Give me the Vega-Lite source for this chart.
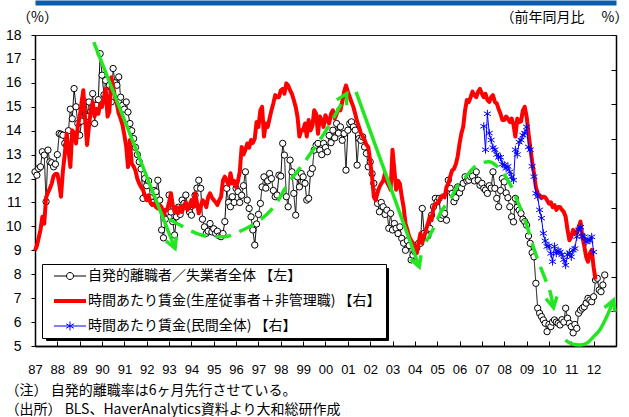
{
"$schema": "https://vega.github.io/schema/vega-lite/v6.json",
"autosize": {"type": "none"},
"padding": {"left": 35, "top": 35, "right": 13, "bottom": 71},
"width": 581,
"height": 311,
"background": "white",
"config": {
  "font": "Liberation Sans",
  "view": {"stroke": "#222222", "strokeWidth": 1},
  "axis": {"grid": false, "domainColor": "black", "tickColor": "black", "labelColor": "black", "titleColor": "black", "domainWidth": 1.5, "tickWidth": 1}
},
"datasets": {
"q": [
{"d":"1987-01","v":12.28},{"d":"1987-02","v":12.14},{"d":"1987-03","v":12.42},{"d":"1987-04","v":12.49},{"d":"1987-05","v":13.12},{"d":"1987-06","v":12.98},{"d":"1987-07","v":11.03},{"d":"1987-08","v":13.19},{"d":"1987-09","v":12.7},{"d":"1987-10","v":12.66},{"d":"1987-11","v":12.49},{"d":"1987-12","v":12.6},
{"d":"1988-01","v":13.0},{"d":"1988-02","v":13.88},{"d":"1988-03","v":13.85},{"d":"1988-04","v":13.81},{"d":"1988-05","v":13.47},{"d":"1988-06","v":13.39},{"d":"1988-07","v":14.0},{"d":"1988-08","v":14.9},{"d":"1988-09","v":14.5},{"d":"1988-10","v":15.76},{"d":"1988-11","v":15.0},{"d":"1988-12","v":14.3},
{"d":"1989-01","v":13.81},{"d":"1989-02","v":14.4},{"d":"1989-03","v":15.0},{"d":"1989-04","v":15.2},{"d":"1989-05","v":14.6},{"d":"1989-06","v":15.2},{"d":"1989-07","v":14.8},{"d":"1989-08","v":15.55},{"d":"1989-09","v":14.3},{"d":"1989-10","v":15.06},{"d":"1989-11","v":15.3},{"d":"1989-12","v":17.22},
{"d":"1990-01","v":16.32},{"d":"1990-02","v":15.5},{"d":"1990-03","v":16.1},{"d":"1990-04","v":15.6},{"d":"1990-05","v":15.9},{"d":"1990-06","v":15.2},{"d":"1990-07","v":16.6},{"d":"1990-08","v":16.0},{"d":"1990-09","v":15.9},{"d":"1990-10","v":16.25},{"d":"1990-11","v":15.4},{"d":"1990-12","v":15.06},
{"d":"1991-01","v":14.9},{"d":"1991-02","v":15.2},{"d":"1991-03","v":14.78},{"d":"1991-04","v":14.3},{"d":"1991-05","v":14.0},{"d":"1991-06","v":13.67},{"d":"1991-07","v":13.3},{"d":"1991-08","v":13.0},{"d":"1991-09","v":12.7},{"d":"1991-10","v":12.4},{"d":"1991-11","v":11.17},{"d":"1991-12","v":12.0},
{"d":"1992-01","v":11.7},{"d":"1992-02","v":11.9},{"d":"1992-03","v":11.2},{"d":"1992-04","v":11.0},{"d":"1992-05","v":11.5},{"d":"1992-06","v":11.45},{"d":"1992-07","v":11.93},{"d":"1992-08","v":11.1},{"d":"1992-09","v":9.85},{"d":"1992-10","v":9.52},{"d":"1992-11","v":10.3},{"d":"1992-12","v":10.6},
{"d":"1993-01","v":11.31},{"d":"1993-02","v":10.6},{"d":"1993-03","v":10.2},{"d":"1993-04","v":9.64},{"d":"1993-05","v":10.4},{"d":"1993-06","v":10.8},{"d":"1993-07","v":10.5},{"d":"1993-08","v":11.1},{"d":"1993-09","v":10.96},{"d":"1993-10","v":11.31},{"d":"1993-11","v":10.8},{"d":"1993-12","v":10.6},
{"d":"1994-01","v":10.47},{"d":"1994-02","v":10.9},{"d":"1994-03","v":11.3},{"d":"1994-04","v":11.6},{"d":"1994-05","v":11.93},{"d":"1994-06","v":11.59},{"d":"1994-07","v":10.3},{"d":"1994-08","v":9.98},{"d":"1994-09","v":9.71},{"d":"1994-10","v":9.8},{"d":"1994-11","v":10.12},{"d":"1994-12","v":9.77},
{"d":"1995-01","v":9.9},{"d":"1995-02","v":9.71},{"d":"1995-03","v":9.8},{"d":"1995-04","v":9.6},{"d":"1995-05","v":9.57},{"d":"1995-06","v":9.7},{"d":"1995-07","v":10.2},{"d":"1995-08","v":11.59},{"d":"1995-09","v":11.0},{"d":"1995-10","v":10.82},{"d":"1995-11","v":11.24},{"d":"1995-12","v":11.0},
{"d":"1996-01","v":11.59},{"d":"1996-02","v":11.45},{"d":"1996-03","v":11.0},{"d":"1996-04","v":11.3},{"d":"1996-05","v":11.7},{"d":"1996-06","v":12.28},{"d":"1996-07","v":11.1},{"d":"1996-08","v":10.75},{"d":"1996-09","v":10.4},{"d":"1996-10","v":9.85},{"d":"1996-11","v":9.22},{"d":"1996-12","v":10.1},
{"d":"1997-01","v":10.5},{"d":"1997-02","v":10.96},{"d":"1997-03","v":11.65},{"d":"1997-04","v":12.07},{"d":"1997-05","v":11.6},{"d":"1997-06","v":11.9},{"d":"1997-07","v":12.21},{"d":"1997-08","v":12.0},{"d":"1997-09","v":11.5},{"d":"1997-10","v":11.24},{"d":"1997-11","v":11.31},{"d":"1997-12","v":12.14},
{"d":"1998-01","v":12.1},{"d":"1998-02","v":13.47},{"d":"1998-03","v":12.98},{"d":"1998-04","v":11.24},{"d":"1998-05","v":10.82},{"d":"1998-06","v":12.77},{"d":"1998-07","v":12.28},{"d":"1998-08","v":11.38},{"d":"1998-09","v":10.47},{"d":"1998-10","v":12.07},{"d":"1998-11","v":11.65},{"d":"1998-12","v":12.21},
{"d":"1999-01","v":12.07},{"d":"1999-02","v":11.8},{"d":"1999-03","v":11.1},{"d":"1999-04","v":11.17},{"d":"1999-05","v":12.21},{"d":"1999-06","v":12.42},{"d":"1999-07","v":13.19},{"d":"1999-08","v":13.39},{"d":"1999-09","v":13.47},{"d":"1999-10","v":13.19},{"d":"1999-11","v":13.0},{"d":"1999-12","v":13.47},
{"d":"2000-01","v":13.3},{"d":"2000-02","v":13.12},{"d":"2000-03","v":13.8},{"d":"2000-04","v":13.5},{"d":"2000-05","v":14.02},{"d":"2000-06","v":13.7},{"d":"2000-07","v":14.3},{"d":"2000-08","v":13.9},{"d":"2000-09","v":14.16},{"d":"2000-10","v":13.6},{"d":"2000-11","v":13.88},{"d":"2000-12","v":12.35},
{"d":"2001-01","v":14.02},{"d":"2001-02","v":14.3},{"d":"2001-03","v":14.37},{"d":"2001-04","v":14.16},{"d":"2001-05","v":14.02},{"d":"2001-06","v":12.56},{"d":"2001-07","v":13.67},{"d":"2001-08","v":13.6},{"d":"2001-09","v":13.74},{"d":"2001-10","v":13.32},{"d":"2001-11","v":13.05},{"d":"2001-12","v":12.49},
{"d":"2002-01","v":12.7},{"d":"2002-02","v":12.2},{"d":"2002-03","v":11.8},{"d":"2002-04","v":11.4},{"d":"2002-05","v":10.96},{"d":"2002-06","v":10.61},{"d":"2002-07","v":11.0},{"d":"2002-08","v":10.82},{"d":"2002-09","v":10.5},{"d":"2002-10","v":10.68},{"d":"2002-11","v":9.92},{"d":"2002-12","v":10.54},
{"d":"2003-01","v":9.85},{"d":"2003-02","v":10.12},{"d":"2003-03","v":9.92},{"d":"2003-04","v":9.7},{"d":"2003-05","v":9.98},{"d":"2003-06","v":9.5},{"d":"2003-07","v":9.3},{"d":"2003-08","v":9.0},{"d":"2003-09","v":9.4},{"d":"2003-10","v":9.2},{"d":"2003-11","v":8.6},{"d":"2003-12","v":8.8},
{"d":"2004-01","v":8.94},{"d":"2004-02","v":9.1},{"d":"2004-03","v":9.29},{"d":"2004-04","v":9.29},{"d":"2004-05","v":10.75},{"d":"2004-06","v":9.71},{"d":"2004-07","v":9.57},{"d":"2004-08","v":9.6},{"d":"2004-09","v":9.92},{"d":"2004-10","v":10.47},{"d":"2004-11","v":10.82},{"d":"2004-12","v":11.17},
{"d":"2005-01","v":11.03},{"d":"2005-02","v":11.17},{"d":"2005-03","v":10.33},{"d":"2005-04","v":10.47},{"d":"2005-05","v":10.54},{"d":"2005-06","v":10.26},{"d":"2005-07","v":11.93},{"d":"2005-08","v":11.59},{"d":"2005-09","v":11.38},{"d":"2005-10","v":11.03},{"d":"2005-11","v":11.2},{"d":"2005-12","v":11.65},
{"d":"2006-01","v":11.4},{"d":"2006-02","v":11.6},{"d":"2006-03","v":11.8},{"d":"2006-04","v":12.07},{"d":"2006-05","v":11.9},{"d":"2006-06","v":11.93},{"d":"2006-07","v":12.07},{"d":"2006-08","v":12.1},{"d":"2006-09","v":11.9},{"d":"2006-10","v":12.28},{"d":"2006-11","v":11.93},{"d":"2006-12","v":11.72},
{"d":"2007-01","v":11.8},{"d":"2007-02","v":11.59},{"d":"2007-03","v":11.52},{"d":"2007-04","v":11.38},{"d":"2007-05","v":11.7},{"d":"2007-06","v":11.6},{"d":"2007-07","v":12.28},{"d":"2007-08","v":11.59},{"d":"2007-09","v":11.17},{"d":"2007-10","v":10.82},{"d":"2007-11","v":11.5},{"d":"2007-12","v":12.0},
{"d":"2008-01","v":11.86},{"d":"2008-02","v":11.4},{"d":"2008-03","v":11.2},{"d":"2008-04","v":10.82},{"d":"2008-05","v":10.4},{"d":"2008-06","v":10.19},{"d":"2008-07","v":11.17},{"d":"2008-08","v":10.8},{"d":"2008-09","v":10.68},{"d":"2008-10","v":10.54},{"d":"2008-11","v":10.3},{"d":"2008-12","v":10.2},
{"d":"2009-01","v":10.05},{"d":"2009-02","v":9.6},{"d":"2009-03","v":9.29},{"d":"2009-04","v":8.9},{"d":"2009-05","v":8.73},{"d":"2009-06","v":7.62},{"d":"2009-07","v":6.58},{"d":"2009-08","v":6.37},{"d":"2009-09","v":6.23},{"d":"2009-10","v":6.09},{"d":"2009-11","v":5.95},{"d":"2009-12","v":5.6},
{"d":"2010-01","v":5.9},{"d":"2010-02","v":5.81},{"d":"2010-03","v":6.0},{"d":"2010-04","v":6.09},{"d":"2010-05","v":6.0},{"d":"2010-06","v":5.95},{"d":"2010-07","v":5.88},{"d":"2010-08","v":6.1},{"d":"2010-09","v":6.0},{"d":"2010-10","v":6.58},{"d":"2010-11","v":6.16},{"d":"2010-12","v":5.95},
{"d":"2011-01","v":5.81},{"d":"2011-02","v":5.55},{"d":"2011-03","v":5.9},{"d":"2011-04","v":5.74},{"d":"2011-05","v":6.37},{"d":"2011-06","v":6.5},{"d":"2011-07","v":6.58},{"d":"2011-08","v":6.64},{"d":"2011-09","v":6.79},{"d":"2011-10","v":6.99},{"d":"2011-11","v":6.92},{"d":"2011-12","v":6.85},
{"d":"2012-01","v":7.06},{"d":"2012-02","v":7.76},{"d":"2012-03","v":7.83},{"d":"2012-04","v":7.34},{"d":"2012-05","v":7.27},{"d":"2012-06","v":7.55},{"d":"2012-07","v":7.97}
],
"w": [
{"d":"1987-01","v":1.88},{"d":"1987-02","v":1.95},{"d":"1987-03","v":2.06},{"d":"1987-04","v":2.18},{"d":"1987-05","v":2.37},{"d":"1987-06","v":2.27},{"d":"1987-07","v":2.65},{"d":"1987-08","v":2.72},{"d":"1987-09","v":2.78},{"d":"1987-10","v":2.85},{"d":"1987-11","v":2.96},{"d":"1987-12","v":2.99},
{"d":"1988-01","v":2.99},{"d":"1988-02","v":2.85},{"d":"1988-03","v":2.66},{"d":"1988-04","v":3.03},{"d":"1988-05","v":3.27},{"d":"1988-06","v":3.57},{"d":"1988-07","v":3.34},{"d":"1988-08","v":3.09},{"d":"1988-09","v":3.62},{"d":"1988-10","v":3.58},{"d":"1988-11","v":3.43},{"d":"1988-12","v":3.68},
{"d":"1989-01","v":3.82},{"d":"1989-02","v":4.03},{"d":"1989-03","v":4.2},{"d":"1989-04","v":3.77},{"d":"1989-05","v":3.41},{"d":"1989-06","v":3.68},{"d":"1989-07","v":3.91},{"d":"1989-08","v":4.03},{"d":"1989-09","v":3.82},{"d":"1989-10","v":3.93},{"d":"1989-11","v":3.86},{"d":"1989-12","v":4.0},
{"d":"1990-01","v":3.96},{"d":"1990-02","v":4.1},{"d":"1990-03","v":4.22},{"d":"1990-04","v":3.82},{"d":"1990-05","v":3.89},{"d":"1990-06","v":4.39},{"d":"1990-07","v":4.25},{"d":"1990-08","v":4.1},{"d":"1990-09","v":4.0},{"d":"1990-10","v":3.86},{"d":"1990-11","v":3.79},{"d":"1990-12","v":3.7},
{"d":"1991-01","v":3.55},{"d":"1991-02","v":3.38},{"d":"1991-03","v":3.09},{"d":"1991-04","v":3.48},{"d":"1991-05","v":3.14},{"d":"1991-06","v":3.1},{"d":"1991-07","v":3.04},{"d":"1991-08","v":2.92},{"d":"1991-09","v":2.85},{"d":"1991-10","v":2.8},{"d":"1991-11","v":2.76},{"d":"1991-12","v":2.68},
{"d":"1992-01","v":2.61},{"d":"1992-02","v":2.68},{"d":"1992-03","v":2.58},{"d":"1992-04","v":2.54},{"d":"1992-05","v":2.56},{"d":"1992-06","v":2.51},{"d":"1992-07","v":2.49},{"d":"1992-08","v":2.54},{"d":"1992-09","v":2.51},{"d":"1992-10","v":2.37},{"d":"1992-11","v":2.47},{"d":"1992-12","v":2.47},
{"d":"1993-01","v":2.58},{"d":"1993-02","v":2.71},{"d":"1993-03","v":2.54},{"d":"1993-04","v":2.44},{"d":"1993-05","v":2.51},{"d":"1993-06","v":2.42},{"d":"1993-07","v":2.51},{"d":"1993-08","v":2.44},{"d":"1993-09","v":2.54},{"d":"1993-10","v":2.58},{"d":"1993-11","v":2.47},{"d":"1993-12","v":2.54},
{"d":"1994-01","v":2.61},{"d":"1994-02","v":2.51},{"d":"1994-03","v":2.71},{"d":"1994-04","v":2.58},{"d":"1994-05","v":2.42},{"d":"1994-06","v":2.51},{"d":"1994-07","v":2.61},{"d":"1994-08","v":2.58},{"d":"1994-09","v":2.51},{"d":"1994-10","v":2.65},{"d":"1994-11","v":2.71},{"d":"1994-12","v":2.65},
{"d":"1995-01","v":2.61},{"d":"1995-02","v":2.58},{"d":"1995-03","v":2.54},{"d":"1995-04","v":2.61},{"d":"1995-05","v":2.66},{"d":"1995-06","v":2.9},{"d":"1995-07","v":2.95},{"d":"1995-08","v":2.89},{"d":"1995-09","v":2.83},{"d":"1995-10","v":3.0},{"d":"1995-11","v":2.85},{"d":"1995-12","v":2.89},
{"d":"1996-01","v":2.8},{"d":"1996-02","v":2.89},{"d":"1996-03","v":3.02},{"d":"1996-04","v":3.38},{"d":"1996-05","v":3.27},{"d":"1996-06","v":3.34},{"d":"1996-07","v":3.43},{"d":"1996-08","v":3.37},{"d":"1996-09","v":3.48},{"d":"1996-10","v":3.44},{"d":"1996-11","v":3.5},{"d":"1996-12","v":3.74},
{"d":"1997-01","v":3.67},{"d":"1997-02","v":3.91},{"d":"1997-03","v":3.96},{"d":"1997-04","v":3.53},{"d":"1997-05","v":3.72},{"d":"1997-06","v":3.67},{"d":"1997-07","v":3.79},{"d":"1997-08","v":3.91},{"d":"1997-09","v":4.01},{"d":"1997-10","v":4.13},{"d":"1997-11","v":4.1},{"d":"1997-12","v":4.1},
{"d":"1998-01","v":4.2},{"d":"1998-02","v":4.22},{"d":"1998-03","v":4.15},{"d":"1998-04","v":4.3},{"d":"1998-05","v":4.27},{"d":"1998-06","v":4.2},{"d":"1998-07","v":4.15},{"d":"1998-08","v":4.06},{"d":"1998-09","v":3.96},{"d":"1998-10","v":3.82},{"d":"1998-11","v":3.53},{"d":"1998-12","v":3.62},
{"d":"1999-01","v":3.62},{"d":"1999-02","v":3.72},{"d":"1999-03","v":3.53},{"d":"1999-04","v":3.77},{"d":"1999-05","v":3.62},{"d":"1999-06","v":3.68},{"d":"1999-07","v":3.91},{"d":"1999-08","v":3.86},{"d":"1999-09","v":3.57},{"d":"1999-10","v":3.82},{"d":"1999-11","v":3.77},{"d":"1999-12","v":3.67},
{"d":"2000-01","v":3.84},{"d":"2000-02","v":3.77},{"d":"2000-03","v":3.72},{"d":"2000-04","v":3.86},{"d":"2000-05","v":3.91},{"d":"2000-06","v":3.79},{"d":"2000-07","v":3.86},{"d":"2000-08","v":3.93},{"d":"2000-09","v":3.91},{"d":"2000-10","v":4.03},{"d":"2000-11","v":4.18},{"d":"2000-12","v":4.27},
{"d":"2001-01","v":4.18},{"d":"2001-02","v":4.1},{"d":"2001-03","v":4.03},{"d":"2001-04","v":3.96},{"d":"2001-05","v":3.86},{"d":"2001-06","v":3.75},{"d":"2001-07","v":3.67},{"d":"2001-08","v":3.58},{"d":"2001-09","v":3.53},{"d":"2001-10","v":3.48},{"d":"2001-11","v":3.41},{"d":"2001-12","v":3.38},
{"d":"2002-01","v":3.17},{"d":"2002-02","v":2.95},{"d":"2002-03","v":2.66},{"d":"2002-04","v":2.61},{"d":"2002-05","v":2.72},{"d":"2002-06","v":2.8},{"d":"2002-07","v":2.85},{"d":"2002-08","v":2.89},{"d":"2002-09","v":3.0},{"d":"2002-10","v":2.87},{"d":"2002-11","v":2.82},{"d":"2002-12","v":2.76},
{"d":"2003-01","v":3.34},{"d":"2003-02","v":3.04},{"d":"2003-03","v":2.76},{"d":"2003-04","v":2.89},{"d":"2003-05","v":2.85},{"d":"2003-06","v":2.66},{"d":"2003-07","v":2.51},{"d":"2003-08","v":2.27},{"d":"2003-09","v":2.18},{"d":"2003-10","v":2.08},{"d":"2003-11","v":2.03},{"d":"2003-12","v":1.99},
{"d":"2004-01","v":1.94},{"d":"2004-02","v":1.84},{"d":"2004-03","v":1.99},{"d":"2004-04","v":2.13},{"d":"2004-05","v":1.99},{"d":"2004-06","v":2.08},{"d":"2004-07","v":2.18},{"d":"2004-08","v":2.27},{"d":"2004-09","v":2.37},{"d":"2004-10","v":2.32},{"d":"2004-11","v":2.51},{"d":"2004-12","v":2.56},
{"d":"2005-01","v":2.56},{"d":"2005-02","v":2.61},{"d":"2005-03","v":2.66},{"d":"2005-04","v":2.68},{"d":"2005-05","v":2.65},{"d":"2005-06","v":2.8},{"d":"2005-07","v":2.85},{"d":"2005-08","v":2.95},{"d":"2005-09","v":3.04},{"d":"2005-10","v":3.06},{"d":"2005-11","v":3.13},{"d":"2005-12","v":3.24},
{"d":"2006-01","v":3.43},{"d":"2006-02","v":3.58},{"d":"2006-03","v":3.67},{"d":"2006-04","v":3.91},{"d":"2006-05","v":4.06},{"d":"2006-06","v":4.03},{"d":"2006-07","v":4.1},{"d":"2006-08","v":4.18},{"d":"2006-09","v":4.13},{"d":"2006-10","v":4.1},{"d":"2006-11","v":4.18},{"d":"2006-12","v":4.22},
{"d":"2007-01","v":4.15},{"d":"2007-02","v":4.1},{"d":"2007-03","v":4.15},{"d":"2007-04","v":4.06},{"d":"2007-05","v":4.03},{"d":"2007-06","v":4.1},{"d":"2007-07","v":4.13},{"d":"2007-08","v":4.03},{"d":"2007-09","v":4.01},{"d":"2007-10","v":3.93},{"d":"2007-11","v":3.86},{"d":"2007-12","v":3.77},
{"d":"2008-01","v":3.77},{"d":"2008-02","v":3.82},{"d":"2008-03","v":3.79},{"d":"2008-04","v":3.74},{"d":"2008-05","v":3.79},{"d":"2008-06","v":3.7},{"d":"2008-07","v":3.53},{"d":"2008-08","v":3.79},{"d":"2008-09","v":3.74},{"d":"2008-10","v":3.75},{"d":"2008-11","v":3.91},{"d":"2008-12","v":3.96},
{"d":"2009-01","v":3.82},{"d":"2009-02","v":3.58},{"d":"2009-03","v":3.38},{"d":"2009-04","v":3.17},{"d":"2009-05","v":3.0},{"d":"2009-06","v":2.8},{"d":"2009-07","v":2.71},{"d":"2009-08","v":2.68},{"d":"2009-09","v":2.64},{"d":"2009-10","v":2.66},{"d":"2009-11","v":2.65},{"d":"2009-12","v":2.61},
{"d":"2010-01","v":2.56},{"d":"2010-02","v":2.58},{"d":"2010-03","v":2.51},{"d":"2010-04","v":2.54},{"d":"2010-05","v":2.47},{"d":"2010-06","v":2.51},{"d":"2010-07","v":2.51},{"d":"2010-08","v":2.47},{"d":"2010-09","v":2.44},{"d":"2010-10","v":2.37},{"d":"2010-11","v":2.18},{"d":"2010-12","v":2.03},
{"d":"2011-01","v":2.08},{"d":"2011-02","v":2.18},{"d":"2011-03","v":2.13},{"d":"2011-04","v":2.13},{"d":"2011-05","v":2.22},{"d":"2011-06","v":2.3},{"d":"2011-07","v":2.08},{"d":"2011-08","v":1.95},{"d":"2011-09","v":1.79},{"d":"2011-10","v":1.72},{"d":"2011-11","v":1.84},{"d":"2011-12","v":1.89},
{"d":"2012-01","v":1.64},{"d":"2012-02","v":1.46}
],
"p": [
{"d":"2007-02","v":3.68},{"d":"2007-03","v":3.34},{"d":"2007-04","v":3.86},{"d":"2007-05","v":3.58},{"d":"2007-06","v":3.48},{"d":"2007-07","v":3.37},{"d":"2007-08","v":3.34},{"d":"2007-09","v":3.27},{"d":"2007-10","v":3.23},{"d":"2007-11","v":3.23},{"d":"2007-12","v":3.13},
{"d":"2008-01","v":3.12},{"d":"2008-02","v":3.07},{"d":"2008-03","v":3.1},{"d":"2008-04","v":3.02},{"d":"2008-05","v":2.95},{"d":"2008-06","v":2.9},{"d":"2008-07","v":3.34},{"d":"2008-08","v":3.27},{"d":"2008-09","v":3.45},{"d":"2008-10","v":3.48},{"d":"2008-11","v":3.55},{"d":"2008-12","v":3.58},
{"d":"2009-01","v":3.67},{"d":"2009-02","v":3.38},{"d":"2009-03","v":3.34},{"d":"2009-04","v":3.1},{"d":"2009-05","v":2.95},{"d":"2009-06","v":2.71},{"d":"2009-07","v":2.66},{"d":"2009-08","v":2.47},{"d":"2009-09","v":2.35},{"d":"2009-10","v":2.13},{"d":"2009-11","v":2.02},{"d":"2009-12","v":1.94},
{"d":"2010-01","v":1.95},{"d":"2010-02","v":1.84},{"d":"2010-03","v":1.72},{"d":"2010-04","v":1.94},{"d":"2010-05","v":1.84},{"d":"2010-06","v":1.88},{"d":"2010-07","v":1.86},{"d":"2010-08","v":1.82},{"d":"2010-09","v":1.75},{"d":"2010-10","v":1.67},{"d":"2010-11","v":1.82},{"d":"2010-12","v":1.85},
{"d":"2011-01","v":1.79},{"d":"2011-02","v":1.89},{"d":"2011-03","v":1.91},{"d":"2011-04","v":2.08},{"d":"2011-05","v":2.18},{"d":"2011-06","v":2.22},{"d":"2011-07","v":2.09},{"d":"2011-08","v":2.08},{"d":"2011-09","v":2.01},{"d":"2011-10","v":2.03},{"d":"2011-11","v":2.03},{"d":"2011-12","v":2.08},
{"d":"2012-01","v":1.86}
],
"gs": [
{"k":"g1","d":"1989-08-18","v":17.7},{"k":"g1","d":"1993-04-08","v":9.08},
{"k":"g3","d":"2001-05-15","v":15.62},{"k":"g3","d":"2004-03-13","v":8.31},
{"k":"g5","d":"2010-09-27","v":5.25},{"k":"g5","d":"2011-01-01","v":5.1},{"k":"g5","d":"2011-05-30","v":5.04},{"k":"g5","d":"2011-10-01","v":5.15},{"k":"g5","d":"2012-01-01","v":5.39},{"k":"g5","d":"2012-04-19","v":5.7},{"k":"g5","d":"2012-07-08","v":6.09},{"k":"g5","d":"2012-09-19","v":6.5},{"k":"g5","d":"2012-11-21","v":6.92}
],
"gd": [
{"k":"g2","d":"1993-01-01","v":10.3},{"k":"g2","d":"1993-08-07","v":10.0},{"k":"g2","d":"1994-03-14","v":9.72},{"k":"g2","d":"1994-11-24","v":9.57},{"k":"g2","d":"1995-07-02","v":9.57},{"k":"g2","d":"1996-04-19","v":9.85},{"k":"g2","d":"1996-11-06","v":10.12},{"k":"g2","d":"1997-11-24","v":11.1},{"k":"g2","d":"1998-03-14","v":11.6},{"k":"g2","d":"1999-01-26","v":12.7},{"k":"g2","d":"1999-06-14","v":13.2},{"k":"g2","d":"2000-02-25","v":14.2},{"k":"g2","d":"2000-12-13","v":15.55},
{"k":"g4","d":"2004-07-02","v":9.36},{"k":"g4","d":"2004-11-13","v":9.98},{"k":"g4","d":"2005-02-17","v":10.54},{"k":"g4","d":"2005-08-11","v":11.17},{"k":"g4","d":"2005-11-03","v":11.58},{"k":"g4","d":"2006-04-13","v":12.07},{"k":"g4","d":"2006-09-06","v":12.49},{"k":"g4","d":"2007-04-20","v":12.7},{"k":"g4","d":"2007-11-03","v":12.35},{"k":"g4","d":"2008-04-16","v":11.72},{"k":"g4","d":"2008-07-05","v":11.24},{"k":"g4","d":"2009-01-12","v":9.98},{"k":"g4","d":"2009-04-02","v":9.29},{"k":"g4","d":"2009-08-15","v":8.31},{"k":"g4","d":"2009-11-07","v":7.76},{"k":"g4","d":"2010-01-27","v":7.2},{"k":"g4","d":"2010-03-15","v":6.6}
]
},
"layer": [
  {"data": {"name": "q"},
   "encoding": {
     "x": {"field": "d", "type": "temporal",
       "scale": {"type": "utc", "domain": [{"year": 1987, "month": 1, "date": 1, "utc": true}, {"year": 2013, "month": 1, "date": 1, "utc": true}]},
       "axis": {"orient": "bottom", "tickCount": {"interval": "year", "step": 1}, "format": "%y", "labelExpr": "datum.label == '13' ? '' : datum.label",
         "tickSize": 0, "labelPadding": 17, "labelFont": "Liberation Sans Narrow, Liberation Sans", "labelFontSize": 13, "labelFlush": false, "labelOverlap": false,
         "title": ["（注） 自発的離職率は6ヶ月先行させている。", "（出所） BLS、HaverAnalytics資料より大和総研作成"],
         "titleAlign": "left", "titleAnchor": "start", "titleX": -30, "titleY": 37, "titleBaseline": "top", "titleLineHeight": 19,
         "titleFont": "Noto Sans CJK JP", "titleFontSize": 14, "titleFontWeight": "normal"}},
     "y": {"field": "v", "type": "quantitative", "scale": {"domain": [5, 18], "nice": false, "zero": false},
      "axis": {"orient": "left", "values": [5,6,7,8,9,10,11,12,13,14,15,16,17,18], "tickSize": 4, "labelPadding": 10, "labelFontSize": 14, "labelFont": "Liberation Sans",
        "title": "（%）", "titleAngle": 0, "titleAlign": "center", "titleBaseline": "middle", "titleX": 2, "titleY": -18, "titleFont": "Noto Sans CJK JP", "titleFontSize": 14, "titleFontWeight": "normal"}}},
   "layer": [
     {"mark": {"type": "line", "strokeWidth": 1},
      "encoding": {
        "color": {"datum": "A", "type": "nominal",
         "scale": {"domain": ["A", "B", "C"], "range": ["black", "#ff0000", "#0000ff"]},
         "legend": {"orient": "none", "legendX": 7, "legendY": 229, "zindex": 2, "title": null, "direction": "vertical",
           "fillColor": "white", "strokeColor": "black", "padding": 5, "rowPadding": 10,
           "symbolSize": 100, "symbolOffset": 16, "labelOffset": 11,
           "labelFont": "Noto Sans CJK JP", "labelFontSize": 14, "labelColor": "black", "labelLimit": 500,
           "labelExpr": "datum.value == 'A' ? '自発的離職者／失業者全体 【左】' : datum.value == 'B' ? '時間あたり賃金(生産従事者＋非管理職) 【右】' : '時間あたり賃金(民間全体) 【右】'",
           "encode": {"symbols": {"update": {
              "shape": {"signal": "datum.value == 'A' ? 'M-3.2,0H-0.7M0.7,0H3.2M-0.7,0A0.7,0.7 0 1,0 0.7,0A0.7,0.7 0 1,0 -0.7,0' : datum.value == 'B' ? 'M-3.2,0H3.2' : 'M-3.2,0H3.2M0,-0.9V0.9M-0.78,-0.45L0.78,0.45M-0.78,0.45L0.78,-0.45'"},
              "stroke": {"signal": "datum.value == 'A' ? 'black' : datum.value == 'B' ? '#ff0000' : '#0000ff'"},
              "strokeWidth": {"signal": "datum.value == 'B' ? 4 : 1"},
              "fill": {"value": "white"}, "fillOpacity": {"value": 1}, "opacity": {"value": 1}}}}}},
        "strokeDash": {"datum": "X", "type": "nominal",
         "scale": {"domain": ["X", "Y", "Z"], "range": [[1, 0], [1, 0], [1, 0]]},
         "legend": {"orient": "none", "legendX": 11, "legendY": 233, "zindex": 1, "title": null, "direction": "vertical",
           "fillColor": "black", "strokeColor": "black", "padding": 5, "rowPadding": 10,
           "symbolSize": 100, "symbolOffset": 16, "labelOffset": 11,
           "labelFont": "Noto Sans CJK JP", "labelFontSize": 14, "labelColor": "black", "labelLimit": 500,
           "labelExpr": "''",
           "symbolType": "M-3.2,-1.4H61.7V1.4H-3.2Z", "symbolStrokeColor": "black", "symbolFillColor": "black", "symbolStrokeWidth": 0}}}},
     {"mark": {"type": "point", "shape": "circle", "filled": true, "fill": "white", "stroke": "black", "strokeWidth": 1, "size": 40, "opacity": 1}}
   ]},
  {"layer": [
     {"data": {"name": "w"},
      "mark": {"type": "line", "strokeWidth": 4, "strokeJoin": "round"},
      "encoding": {"color": {"datum": "B", "type": "nominal"}}},
     {"data": {"name": "p"},
      "mark": {"type": "line", "strokeWidth": 1},
      "encoding": {"color": {"datum": "C", "type": "nominal"}}},
     {"data": {"name": "p"},
      "mark": {"type": "point", "shape": "M0,-1V1M-0.87,-0.5L0.87,0.5M-0.87,0.5L0.87,-0.5", "filled": false, "stroke": "#0000ff", "strokeWidth": 1, "size": 64, "opacity": 1}}
   ],
   "encoding": {
     "x": {"field": "d", "type": "temporal",
       "scale": {"type": "utc", "domain": [{"year": 1987, "month": 1, "date": 1, "utc": true}, {"year": 2013, "month": 1, "date": 1, "utc": true}]},
       "axis": {"orient": "bottom", "tickCount": {"interval": "year", "step": 1}, "labels": false, "tickSize": -5, "domain": true, "title": null}},
     "y": {"field": "v", "type": "quantitative", "scale": {"domain": [0.5, 5], "nice": false, "zero": false},
      "axis": {"orient": "right", "values": [0.5,1,1.5,2,2.5,3,3.5,4,4.5,5], "labels": false, "tickSize": -5,
        "title": "（前年同月比　 %）", "titleAngle": 0, "titleAlign": "right", "titleBaseline": "middle", "titleX": 12, "titleY": -18, "titleFont": "Noto Sans CJK JP", "titleFontSize": 14, "titleFontWeight": "normal"}}}},
  {"layer": [
     {"data": {"name": "gs"},
      "mark": {"type": "line", "color": "#22e622", "strokeWidth": 3.5, "interpolate": "monotone", "strokeCap": "butt"},
      "encoding": {"detail": {"field": "k"}}},
     {"data": {"name": "gd"},
      "mark": {"type": "line", "color": "#22e622", "strokeWidth": 3.5, "interpolate": "monotone", "strokeDash": [16, 9]},
      "encoding": {"detail": {"field": "k"}}},
     {"data": {"values": [{"d": "1993-04-08", "v": 9.08}]},
      "mark": {"type": "point", "shape": "M-0.6,1.1L0,0L0.6,1.1", "filled": false, "stroke": "#22e622", "strokeWidth": 3.5, "size": 350, "angle": 158, "opacity": 1}},
     {"data": {"values": [{"d": "2000-12-13", "v": 15.55}]},
      "mark": {"type": "point", "shape": "M-0.6,1.1L0,0L0.6,1.1", "filled": false, "stroke": "#22e622", "strokeWidth": 3.5, "size": 350, "angle": 29, "opacity": 1}},
     {"data": {"values": [{"d": "2004-03-13", "v": 8.31}]},
      "mark": {"type": "point", "shape": "M-0.6,1.1L0,0L0.6,1.1", "filled": false, "stroke": "#22e622", "strokeWidth": 3.5, "size": 350, "angle": 160, "opacity": 1}},
     {"data": {"values": [{"d": "2010-03-15", "v": 6.6}]},
      "mark": {"type": "point", "shape": "M-0.6,1.1L0,0L0.6,1.1", "filled": false, "stroke": "#22e622", "strokeWidth": 3.5, "size": 350, "angle": 169, "opacity": 1}},
     {"data": {"values": [{"d": "2012-11-21", "v": 6.92}]},
      "mark": {"type": "point", "shape": "M-0.6,1.1L0,0L0.6,1.1", "filled": false, "stroke": "#22e622", "strokeWidth": 3.5, "size": 350, "angle": 21, "opacity": 1}}
   ],
   "encoding": {
     "x": {"field": "d", "type": "temporal",
       "scale": {"type": "utc", "domain": [{"year": 1987, "month": 1, "date": 1, "utc": true}, {"year": 2013, "month": 1, "date": 1, "utc": true}]},
       "axis": {"orient": "top", "labels": false, "ticks": false, "domain": true, "domainColor": "#0b5cab", "domainWidth": 5, "offset": 32.5, "title": null}},
     "y": {"field": "v", "type": "quantitative", "scale": {"domain": [5, 18], "nice": false, "zero": false}, "axis": null}}}
],
"resolve": {"scale": {"y": "independent"}, "axis": {"x": "independent"}}
}
